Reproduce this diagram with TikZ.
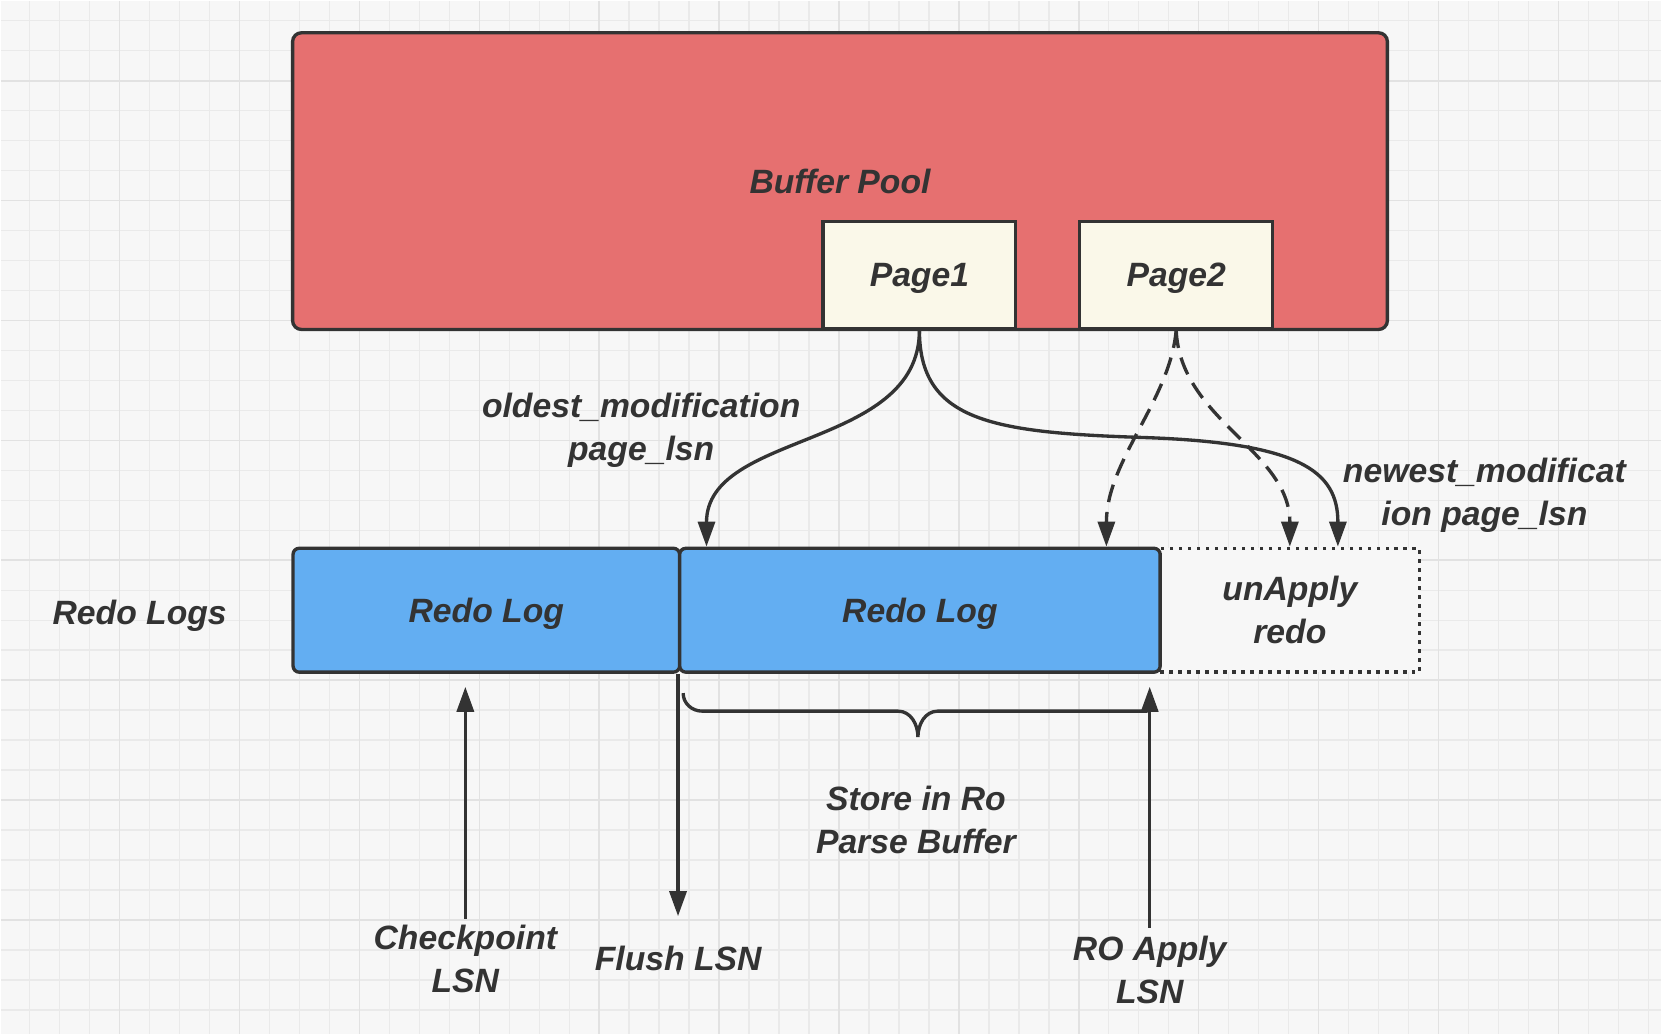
\documentclass[tikz,border=0pt]{standalone}
\usepackage{fontspec}
\setmainfont{Liberation Sans}
\usetikzlibrary{arrows.meta}
\definecolor{poolred}{HTML}{E67070}
\definecolor{pagecream}{HTML}{FAF8E9}
\definecolor{logblue}{HTML}{63AEF2}
\definecolor{ink}{HTML}{333333}
\definecolor{paper}{HTML}{F7F7F7}
\definecolor{gridminor}{HTML}{EAEAEA}
\definecolor{gridmajor}{HTML}{E2E2E2}

\begin{document}
\begin{tikzpicture}[x=0.02cm,y=-0.02cm,
    lbl/.style={text=ink,font=\fontsize{19.2}{24.5}\selectfont\bfseries\itshape,
                align=center,inner sep=0pt},
    box/.style={lbl,draw=ink,line width=1.9pt,text depth=0pt},
    arr/.style={draw=ink,line width=1.9pt,-{Triangle[length=0.5cm,width=0.34cm]}},
    dasharr/.style={arr,dash pattern=on 0.36cm off 0.2cm}]
  % paper with grid
  \fill[paper] (0,0) rectangle (1662,1034);
  \foreach \gx in {29,59,...,1661} \draw[gridminor,line width=0.8pt] (\gx,0) -- (\gx,1034);
  \foreach \gy in {20,50,...,1033} \draw[gridminor,line width=0.8pt] (0,\gy) -- (1662,\gy);
  \foreach \gx in {119,239,...,1661} \draw[gridmajor,line width=0.9pt] (\gx,0) -- (\gx,1034);
  \foreach \gy in {80,200,...,1033} \draw[gridmajor,line width=0.9pt] (0,\gy) -- (1662,\gy);
  \useasboundingbox (0,0) rectangle (1662,1034);

  % buffer pool
  \node[box,fill=poolred,rounded corners=5pt,minimum width=21.92cm,minimum height=5.94cm]
    (pool) at (840,180.5) {Buffer Pool};
  \node[box,fill=pagecream,minimum width=3.86cm,minimum height=2.14cm] (page1) at (919.5,274.5) {Page1};
  \node[box,fill=pagecream,minimum width=3.86cm,minimum height=2.14cm] (page2) at (1176.5,274.5) {Page2};

  % redo logs
  \node[box,fill=paper,draw=ink,dash pattern=on 0.07cm off 0.11cm,minimum width=5.19cm,minimum height=2.48cm]
    (unapply) at (1290.3,610) {unApply\\redo};
  \node[box,fill=logblue,rounded corners=3.5pt,minimum width=7.74cm,minimum height=2.48cm] (redoA) at (486,610) {Redo Log};
  \node[box,fill=logblue,rounded corners=3.5pt,minimum width=9.62cm,minimum height=2.48cm] (redoB) at (920,610) {Redo Log};
  \node[lbl] (redologs) at (139,615.5) {Redo Logs};

  \node[lbl] (oldest) at (641,430) {oldest\_modification\\page\_lsn};
  \node[lbl] (newest) at (1485,495) {newest\_modificat\\ion page\_lsn};
  \node[lbl] (store) at (916,820) {Store in Ro\\Parse Buffer};
  \node[lbl] (ckpt) at (465,959) {Checkpoint\\LSN};
  \node[lbl] (flush) at (678,959) {Flush LSN};
  \node[lbl] (roapply) at (1150,970) {RO Apply\\LSN};

  % page lsn arrows
  \coordinate (bend) at (1140,437);
  \draw[arr] (page1.south) .. controls +(0,120) and +(0,-116) .. ([xshift=0.57cm]redoB.north west);
  \draw[arr] (page1.south) .. controls +(0,90) and +(-150,-5) .. (bend)
    .. controls +(160,5) and +(0,-76) .. ([xshift=3.59cm]unapply.north west);
  \draw[dasharr] (page2.south) .. controls +(-6,70) and +(0,-86) .. ([xshift=-1.11cm]redoB.north east);
  \draw[dasharr] (page2.south) .. controls +(4,90) and +(0,-96) .. (unapply.north);

  % lsn markers
  \draw[arr,shorten <=0.12cm,shorten >=0.26cm] (ckpt.north) -- (ckpt.north |- redoA.south);
  \draw[arr,shorten >=0.6cm] (redoB.south west) -- (redoB.south west |- flush.north);
  \draw[arr,shorten <=0.16cm,shorten >=0.26cm] (roapply.north) -- (roapply.north |- redoB.south);

  % brace under the parse buffer
  \draw[ink,line width=1.9pt] (683,693) to[out=-90,in=180] (702,711) -- (898,711)
    to[out=0,in=90] (918,737) to[out=90,in=180] (938,711) -- (1148,711);
\end{tikzpicture}
\end{document}
